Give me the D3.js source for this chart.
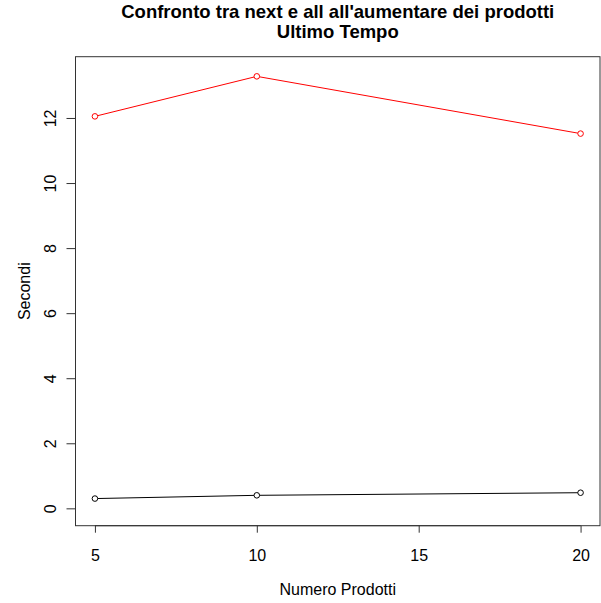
<!DOCTYPE html>
<html>
<head>
  <title>Confronto next / all</title>
  <style>
    body { margin: 0; background: #fff; }
    text { font-family: "Liberation Sans", Arial, sans-serif; }
  </style>
</head>
<body>
  <svg id="svg"></svg>
  <script src="https://d3js.org/d3.v7.min.js"></script>
  <script>
    // numero prodotti
    const prodotti = [5, 10, 20];
    // secondi, serie "all" (rossa) e "next" (nera)
    const tempiAll = [12.05, 13.28, 11.52];
    const tempiNext = [0.30, 0.40, 0.48];
    const xTicks = [5, 10, 15, 20];
    const yTicks = [0, 2, 4, 6, 8, 10, 12];
    const yLim = [0, 13.35];

    const W = 601, H = 603;
    const margin = { top: 56.7, right: 1, bottom: 77.3, left: 75.5 };
    const width = W - margin.left - margin.right;
    const height = H - margin.top - margin.bottom;

    const svg = d3.select("#svg").attr("width", W).attr("height", H);

    // R-style 4% padding
    const xr = d3.extent(prodotti);
    const xPad = (xr[1] - xr[0]) * 0.04;
    const xScale = d3.scaleLinear().domain([xr[0] - xPad, xr[1] + xPad]).range([0, width]);
    const yPad = (yLim[1] - yLim[0]) * 0.04;
    const yScale = d3.scaleLinear().domain([yLim[0] - yPad, yLim[1] + yPad]).range([height, 0]);

    const g = svg.append("g").attr("transform", `translate(${margin.left},${margin.top})`);

    // box
    g.append("rect")
      .attr("x", 0).attr("y", 0)
      .attr("width", width).attr("height", height)
      .attr("fill", "none").attr("stroke", "#333").attr("stroke-width", 1);

    const xAxis = g.append("g")
      .attr("transform", `translate(0,${height})`)
      .call(d3.axisBottom(xScale).tickValues(xTicks).tickSize(7).tickPadding(16.5).tickFormat(d3.format("d")));
    xAxis.select(".domain").attr("d", `M${xScale(xTicks[0])},0H${xScale(xTicks[xTicks.length - 1])}`).attr("stroke", "#333");
    xAxis.selectAll(".tick line").attr("stroke", "#333");
    xAxis.selectAll("text").attr("font-size", 16).attr("fill", "#000");

    const yAxis = g.append("g")
      .call(d3.axisLeft(yScale).tickValues(yTicks).tickSize(9).tickPadding(0).tickFormat(d3.format("d")));
    yAxis.select(".domain").attr("d", `M0,${yScale(yTicks[0])}V${yScale(yTicks[yTicks.length - 1])}`).attr("stroke", "#333");
    yAxis.selectAll(".tick line").attr("stroke", "#333");
    yAxis.selectAll("text")
      .attr("font-size", 16).attr("fill", "#000")
      .attr("text-anchor", "middle")
      .attr("x", null).attr("dy", null)
      .attr("transform", "translate(-19.5,0) rotate(-90)");

    const line = d3.line().x((d, i) => xScale(prodotti[i])).y(d => yScale(d));

    const series = [
      { values: tempiAll, color: "#ff0000" },
      { values: tempiNext, color: "#000000" }
    ];

    series.forEach(s => {
      g.append("path")
        .datum(s.values)
        .attr("d", line)
        .attr("fill", "none")
        .attr("stroke", s.color)
        .attr("stroke-width", 1);
      g.selectAll(null)
        .data(s.values)
        .join("circle")
        .attr("cx", (d, i) => xScale(prodotti[i]))
        .attr("cy", d => yScale(d))
        .attr("r", 2.8)
        .attr("fill", "#fff")
        .attr("stroke", s.color)
        .attr("stroke-width", 1);
    });

    // titles
    const cx = margin.left + width / 2;
    svg.append("text")
      .attr("x", cx).attr("y", 17.5)
      .attr("text-anchor", "middle").attr("font-size", 18.5).attr("font-weight", "bold")
      .text("Confronto tra next e all all'aumentare dei prodotti");
    svg.append("text")
      .attr("x", cx).attr("y", 37.5)
      .attr("text-anchor", "middle").attr("font-size", 18.5).attr("font-weight", "bold")
      .text("Ultimo Tempo");

    svg.append("text")
      .attr("x", cx).attr("y", 595)
      .attr("text-anchor", "middle").attr("font-size", 16)
      .text("Numero Prodotti");

    svg.append("text")
      .attr("transform", `translate(30,${margin.top + height / 2}) rotate(-90)`)
      .attr("text-anchor", "middle").attr("font-size", 16)
      .text("Secondi");
  </script>
</body>
</html>
